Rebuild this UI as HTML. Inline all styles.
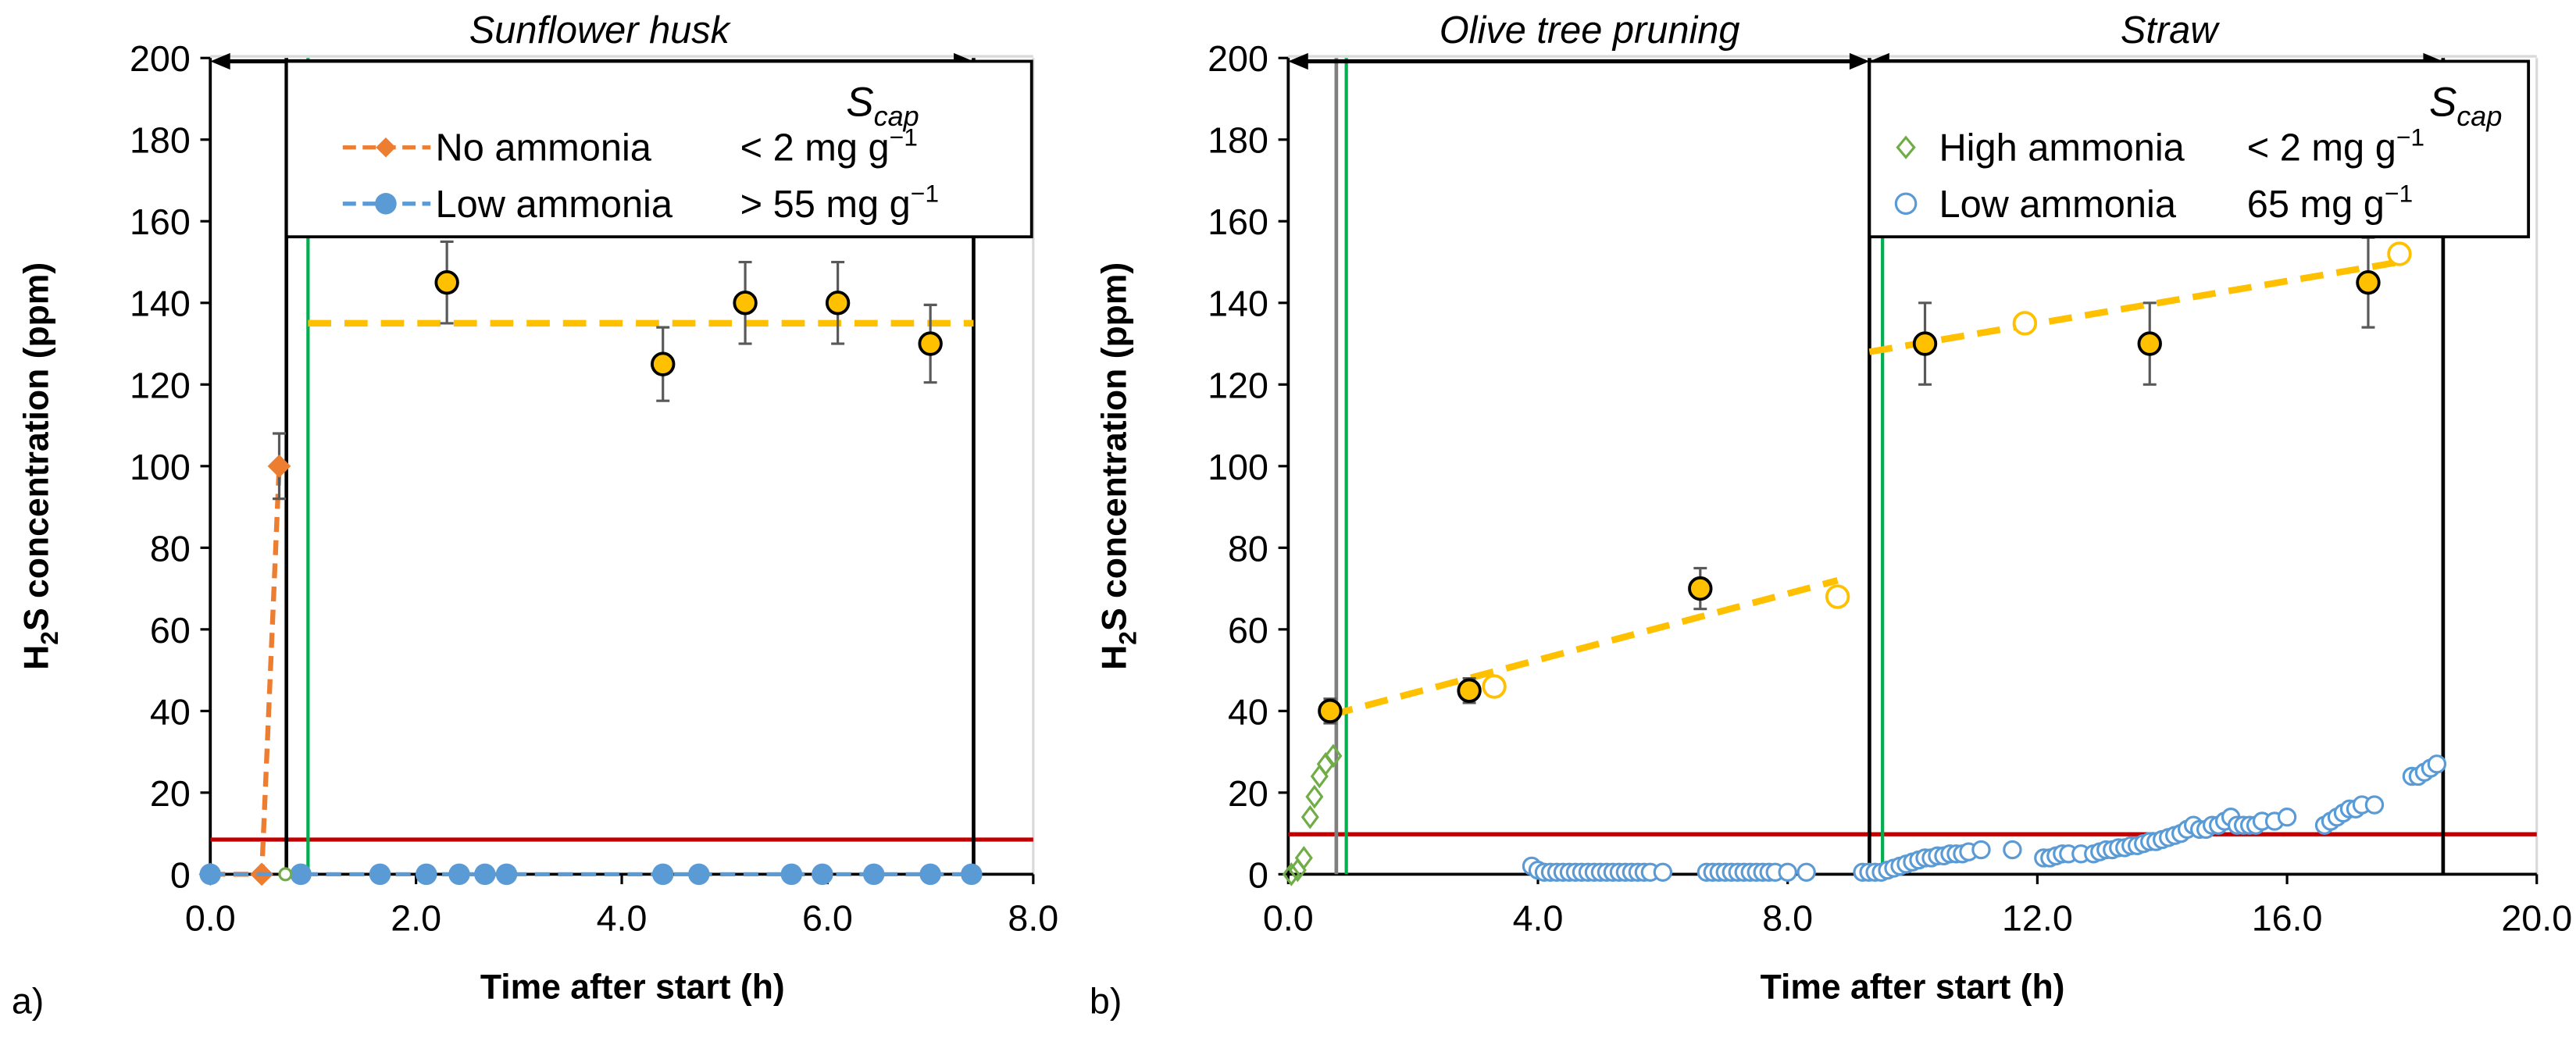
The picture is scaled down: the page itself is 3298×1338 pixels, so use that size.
<!DOCTYPE html>
<html><head><meta charset="utf-8"><style>
html,body{margin:0;padding:0;background:#fff;}
svg{display:block;font-family:"Liberation Sans",sans-serif;}
</style></head><body>
<svg id="chart" width="3298" height="1338" viewBox="0 0 1555.7 631.1" xmlns="http://www.w3.org/2000/svg"></svg>
<script>
// ---- data ----
const leftTicksY=[0,20,40,60,80,100,120,140,160,180,200];
const leftTicksX=[0,2,4,6,8];
const rightTicksX=[0,4,8,12,16,20];
const leftNoAmmX=[0,0.5,0.67];
const leftNoAmmY=[0,0,100];
const leftLowX=[0,0.88,1.65,2.1,2.42,2.67,2.88,4.4,4.75,5.65,5.95,6.45,7.0,7.4];
const leftLowY=[0,0,0,0,0,0,0,0,0,0,0,0,0,0];
const leftCapX=[2.3,4.4,5.2,6.1,7.0];
const leftCapY=[145,125,140,140,130];
const leftCapErr=[10,9,10,10,9.5];
const rightCapX=[0.67,2.9,6.6,10.2,13.8,17.3];
const rightCapY=[40,45,70,130,130,145];
const rightCapErr=[3,3,5,10,10,11];
const rightOpenX=[3.3,8.8,11.8,17.8];
const rightOpenY=[46,68,135,152];
const rightHighX=[0.05,0.15,0.25,0.35,0.42,0.5,0.6,0.72];
const rightHighY=[0,1,4,14,19,24,27,29];
const rightLowX=[3.9,4.0,4.1,4.2,4.3,4.4,4.5,4.6,4.7,4.8,4.9,5.0,5.1,5.2,5.3,5.4,5.5,5.6,5.7,5.8,6.0,6.7,6.8,6.9,7.0,7.1,7.2,7.3,7.4,7.5,7.6,7.7,7.8,8.0,8.3,9.2,9.3,9.4,9.5,9.6,9.7,9.8,9.9,10.0,10.1,10.2,10.3,10.4,10.5,10.6,10.7,10.8,10.9,11.1,11.6,12.1,12.2,12.3,12.4,12.5,12.7,12.9,13.0,13.1,13.2,13.3,13.4,13.5,13.6,13.7,13.8,13.9,14.0,14.1,14.2,14.3,14.4,14.5,14.6,14.7,14.8,14.9,15.0,15.1,15.2,15.3,15.4,15.5,15.6,15.8,16.0,16.6,16.7,16.8,16.9,17.0,17.1,17.2,17.4,18.0,18.1,18.2,18.3,18.4];
const rightLowY=[2,1,0.5,0.5,0.5,0.5,0.5,0.5,0.5,0.5,0.5,0.5,0.5,0.5,0.5,0.5,0.5,0.5,0.5,0.5,0.5,0.5,0.5,0.5,0.5,0.5,0.5,0.5,0.5,0.5,0.5,0.5,0.5,0.5,0.5,0.5,0.5,0.5,0.5,1,1.5,2,2.5,3,3.5,4,4,4.5,4.5,5,5,5,5.5,6,6,4,4,4.5,5,5,5,5,5.5,6,6,6.5,6.5,7,7,7.5,8,8,8.5,9,9.5,10,11,12,11,11,12,12,13,14,12,12,12,12,13,13,14,12,13,14,15,16,16,17,17,24,24,25,26,27];
// ---- helpers ----
const NS="http://www.w3.org/2000/svg";
const svg=document.getElementById('chart');
function el(tag,attrs,parent,text){const e=document.createElementNS(NS,tag);for(const k in attrs)e.setAttribute(k,attrs[k]);if(text!==undefined)e.textContent=text;(parent||svg).appendChild(e);return e;}
const Y0=528,Y200=35;
function yS(v){return Y0-(v/200)*(Y0-Y200);}
function panel(x0,x1,xmax){return v=>x0+(v/xmax)*(x1-x0);}
const xL=panel(127,624,8), xR=panel(778,1532,20);
function axes(name,xs,x0,x1,ticksX,xlabelX,label){
  const g=el('g',{},svg);
  
  el('line',{x1:x1,y1:Y200,x2:x1,y2:Y0,stroke:'#d9d9d9','stroke-width':1.5},g);
  el('line',{x1:x0,y1:Y200-1,x2:x1,y2:Y200-1,stroke:'#d9d9d9','stroke-width':1.5},g);
  el('line',{x1:x0,y1:Y200,x2:x0,y2:Y0,stroke:'#000','stroke-width':1.8},g);
  el('line',{x1:x0,y1:Y0,x2:x1,y2:Y0,stroke:'#000','stroke-width':1.8},g);
  leftTicksY.forEach(v=>{
    el('line',{x1:x0-6,y1:yS(v),x2:x0,y2:yS(v),stroke:'#000','stroke-width':1.5},g);
    const t=el('text',{x:x0-12,y:yS(v)+8,'font-size':22,'text-anchor':'end'},g,String(v));
    
  });
  ticksX.forEach(v=>{
    el('line',{x1:xs(v),y1:Y0,x2:xs(v),y2:Y0+6,stroke:'#000','stroke-width':1.5},g);
    const t=el('text',{x:xs(v),y:Y0+34,'font-size':22,'text-anchor':'middle'},g,v.toFixed(1));
    
  });
  const xt=el('text',{x:xlabelX,y:603,'font-size':21,'font-weight':'bold','text-anchor':'middle'},g,'Time after start (h)');
  
  const yt=el('text',{transform:`translate(${x0-98},${(Y0+Y200)/2}) rotate(-90)`,'font-size':21,'font-weight':'bold','text-anchor':'middle'},g);
  
  el('tspan',{},yt,'H');el('tspan',{dy:6,'font-size':15},yt,'2');el('tspan',{dy:-6},yt,'S concentration (ppm)');
  const pl=el('text',{x:x0-120,y:612,'font-size':22},g,label);
  
}
axes('left-axes',xL,127,624,leftTicksX,382,'a)');
axes('right-axes',xR,778,1532,rightTicksX,1155,'b)');
function vline(x,c,w,name){const l=el('line',{x1:x,y1:Y200,x2:x,y2:Y0,stroke:c,'stroke-width':w});}
function hline(xa,xb,v,c,name){const l=el('line',{x1:xa,y1:yS(v),x2:xb,y2:yS(v),stroke:c,'stroke-width':2.5});}
// left
hline(127,624,8.5,'#c00000','threshold-line-left');
vline(xL(0.74),'#000',2.2,'phase-line-left-start');
vline(xL(0.95),'#00b050',2,'green-line-left');
vline(xL(7.42),'#000',2.2,'phase-line-left-end');
// right
hline(778,1532,9.8,'#c00000','threshold-line-right');
vline(xR(0.77),'#7f7f7f',2.2,'gray-line-right');
vline(xR(0.93),'#00b050',2,'green-line-right-1');
vline(xR(9.31),'#000',2.2,'phase-line-right-mid');
vline(xR(9.52),'#00b050',2,'green-line-right-2');
vline(xR(18.5),'#000',2.2,'phase-line-right-end');
// arrows
function arrow(xa,xb,name){const g=el('g',{});
  el('line',{x1:xa+8,y1:37,x2:xb-8,y2:37,stroke:'#000','stroke-width':2.5},g);
  el('polygon',{points:`${xa},37 ${xa+12},32 ${xa+12},42`,fill:'#000'},g);
  el('polygon',{points:`${xb},37 ${xb-12},32 ${xb-12},42`,fill:'#000'},g);}
arrow(127,xL(7.42),'sunflower-arrow');
arrow(778,xR(9.31),'olive-arrow');
arrow(xR(9.31),xR(18.5),'straw-arrow');
function title(x,s,name){const t=el('text',{x:x,y:26,'font-size':23,'font-style':'italic','text-anchor':'middle'},svg,s);}
title(362,'Sunflower husk','sunflower-title');title(960,'Olive tree pruning','olive-title');title(1310,'Straw','straw-title');
// yellow trend lines
function dash(xa,ya,xb,yb,name){const l=el('line',{x1:xa,y1:ya,x2:xb,y2:yb,stroke:'#ffc000','stroke-width':4,'stroke-dasharray':'14,8'});}
dash(xL(0.95),yS(135),xL(7.42),yS(135),'trend-left');
dash(xR(0.67),yS(39),xR(8.8),yS(72),'trend-olive');
dash(xR(9.31),yS(128),xR(17.8),yS(150),'trend-straw');
// error bars + points
function capPts(xs,X,Y,E,pref){X.forEach((x,i)=>{const cx=xs(x),cy=yS(Y[i]);
  const g=el('g',{});
  el('line',{x1:cx,y1:yS(Y[i]+E[i]),x2:cx,y2:yS(Y[i]-E[i]),stroke:'#595959','stroke-width':1.5},g);
  el('line',{x1:cx-4,y1:yS(Y[i]+E[i]),x2:cx+4,y2:yS(Y[i]+E[i]),stroke:'#595959','stroke-width':1.5},g);
  el('line',{x1:cx-4,y1:yS(Y[i]-E[i]),x2:cx+4,y2:yS(Y[i]-E[i]),stroke:'#595959','stroke-width':1.5},g);
  el('circle',{cx:cx,cy:cy,r:6.5,fill:'#ffc000',stroke:'#000','stroke-width':1.8},g);});}
// left orange series
const op=leftNoAmmX.map((x,i)=>xL(x)+','+yS(leftNoAmmY[i])).join(' ');
const ol=el('polyline',{points:op,fill:'none',stroke:'#ed7d31','stroke-width':3,'stroke-dasharray':'9,5'});

el('line',{x1:xL(0.67),y1:yS(92),x2:xL(0.67),y2:yS(108),stroke:'#595959','stroke-width':1.5});
el('line',{x1:xL(0.67)-4,y1:yS(108),x2:xL(0.67)+4,y2:yS(108),stroke:'#595959','stroke-width':1.5});
el('line',{x1:xL(0.67)-4,y1:yS(92),x2:xL(0.67)+4,y2:yS(92),stroke:'#595959','stroke-width':1.5});
leftNoAmmX.forEach((x,i)=>{const cx=xL(x),cy=yS(leftNoAmmY[i]);const d=el('polygon',{points:`${cx},${cy-7} ${cx+7},${cy} ${cx},${cy+7} ${cx-7},${cy}`,fill:'#ed7d31'});});
const bl=el('line',{x1:xL(0),y1:yS(0),x2:xL(7.4),y2:yS(0),stroke:'#5b9bd5','stroke-width':2.5,'stroke-dasharray':'9,5'});

leftLowX.forEach((x,i)=>{const c=el('circle',{cx:xL(x),cy:yS(leftLowY[i]),r:6.5,fill:'#5b9bd5'});});
el('circle',{cx:xL(0.73),cy:yS(0),r:3.5,fill:'#fff',stroke:'#70ad47','stroke-width':1.5});
capPts(xL,leftCapX,leftCapY,leftCapErr,'scap-left');
// right series
rightHighX.forEach((x,i)=>{const cx=xR(x),cy=yS(rightHighY[i]);const d=el('polygon',{points:`${cx},${cy-6} ${cx+4.5},${cy} ${cx},${cy+6} ${cx-4.5},${cy}`,fill:'none',stroke:'#70ad47','stroke-width':1.5});});
el('rect',{x:xR(9.4)-3,y:yS(0)-3,width:6,height:6,fill:'#70ad47'});
rightLowX.forEach((x,i)=>{const c=el('circle',{cx:xR(x),cy:yS(rightLowY[i]),r:5,fill:'#fff',stroke:'#5b9bd5','stroke-width':1.5});});
rightOpenX.forEach((x,i)=>{const c=el('circle',{cx:xR(x),cy:yS(rightOpenY[i]),r:6.5,fill:'#fff',stroke:'#ffc000','stroke-width':1.8});});
capPts(xR,rightCapX,rightCapY,rightCapErr,'scap-right');
// legends
function legend(x0,x1,rows,name){const g=el('g',{});
  el('rect',{x:x0,y:37,width:x1-x0,height:106,fill:'#fff',stroke:'#000','stroke-width':1.8},g);
  const s=el('text',{x:x0+338,y:70,'font-size':25,'font-style':'italic'},g);
  el('tspan',{},s,'S');el('tspan',{dy:6,'font-size':17},s,'cap');
  rows.forEach((r,i)=>{const y=i?123:89;
    if(r.line)el('line',{x1:x0+34,y1:y,x2:x0+87,y2:y,stroke:r.c,'stroke-width':2.5,'stroke-dasharray':'8,4'},g);
    r.mark(x0+60,y,g);
    el('text',{x:x0+r.tx,y:y+8,'font-size':23},g,r.t);
    const v=el('text',{x:x0+r.vx,y:y+8,'font-size':23},g,r.v);
    el('tspan',{dy:-9,'font-size':15},v,'−1');});}
legend(173,623,[
 {line:1,c:'#ed7d31',t:'No ammonia',tx:90,vx:274,v:'< 2 mg g',mark:(x,y,g)=>el('polygon',{points:`${x},${y-6} ${x+6},${y} ${x},${y+6} ${x-6},${y}`,fill:'#ed7d31'},g)},
 {line:1,c:'#5b9bd5',t:'Low ammonia',tx:90,vx:274,v:'> 55 mg g',mark:(x,y,g)=>el('circle',{cx:x,cy:y,r:6.5,fill:'#5b9bd5'},g)}],'legend-left');
legend(1129,1527,[
 {line:0,c:'#70ad47',t:'High ammonia',tx:42,vx:228,v:'< 2 mg g',mark:(x,y,g)=>el('polygon',{points:`${x-38},${y-6} ${x-33},${y} ${x-38},${y+6} ${x-43},${y}`,fill:'none',stroke:'#70ad47','stroke-width':1.5},g)},
 {line:0,c:'#5b9bd5',t:'Low ammonia',tx:42,vx:228,v:'65 mg g',mark:(x,y,g)=>el('circle',{cx:x-38,cy:y,r:6,fill:'#fff',stroke:'#5b9bd5','stroke-width':1.5},g)}],'legend-right');
</script>
</body></html>
